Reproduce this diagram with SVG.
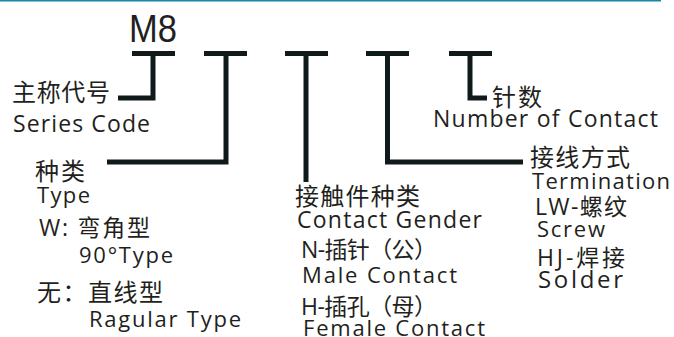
<svg xmlns="http://www.w3.org/2000/svg" width="674" height="337" viewBox="0 0 674 337">
<style>
.t{font-family:"Open Sans","Noto Sans CJK SC",sans-serif;fill:#231f20;}
.c{font-family:"Noto Sans CJK SC",sans-serif;fill:#231f20;font-size:24px;}
.e{font-size:22px;}
.m{font-size:23px;}
.ln{fill:none;stroke:#111a1a;stroke-width:5;stroke-linejoin:miter;stroke-linecap:butt;}
</style>
<rect width="674" height="337" fill="#ffffff"/>
<line x1="0" y1="0.7" x2="661" y2="0.7" stroke="#1a86a5" stroke-width="1.6"/>
<g id="title"><text x="129" y="42" font-family="Liberation Sans, Arial, sans-serif" font-size="39" fill="#231f20" textLength="48" lengthAdjust="spacingAndGlyphs">M8</text></g>
<g id="connectors">
<path class="ln" d="M132 53.5H175M153 53.5V98H118"/>
<path class="ln" d="M204 53.5H247M226 53.5V162H107"/>
<path class="ln" d="M285 53.5H328M306 53.5V182"/>
<path class="ln" d="M366 53.5H409M387.5 53.5V162H523"/>
<path class="ln" d="M449 53.5H492M470 53.5V98H487"/>
</g>
<g id="series">
<text class="c" x="12" y="101" textLength="98">主称代号</text>
<text class="t m" x="13" y="132" textLength="137">Series Code</text>
</g>
<g id="type">
<text class="c" x="35" y="180" textLength="50">种类</text>
<text class="t e" x="37" y="203" textLength="53">Type</text>
<text class="t m" x="39" y="236" textLength="111">W: 弯角型</text>
<text class="t e" x="79" y="263" textLength="94">90°Type</text>
<text class="c" x="37" y="301" textLength="126">无：直线型</text>
<text class="t e" x="89" y="327" textLength="152">Ragular Type</text>
</g>
<g id="gender">
<text class="c" x="295" y="205" textLength="125">接触件种类</text>
<text class="t m" x="297" y="228" textLength="185">Contact Gender</text>
<text class="t m" x="301" y="258" textLength="136">N-插针（公）</text>
<text class="t e" x="302" y="283" textLength="155">Male Contact</text>
<text class="t m" x="301" y="315" textLength="136">H-插孔（母）</text>
<text class="t e" x="303" y="336" textLength="182">Female Contact</text>
</g>
<g id="contacts">
<text class="c" x="492" y="106" textLength="50">针数</text>
<text class="t m" x="433" y="127" textLength="225">Number of Contact</text>
</g>
<g id="termination">
<text class="c" x="530" y="166" textLength="100">接线方式</text>
<text class="t e" x="532" y="189" textLength="138">Termination</text>
<text class="t m" x="535" y="215" textLength="92">LW-螺纹</text>
<text class="t e" x="537" y="237" textLength="68">Screw</text>
<text class="t m" x="537" y="266" textLength="88">HJ-焊接</text>
<text class="t" x="538" y="288" font-size="24" textLength="85">Solder</text>
</g>
</svg>
